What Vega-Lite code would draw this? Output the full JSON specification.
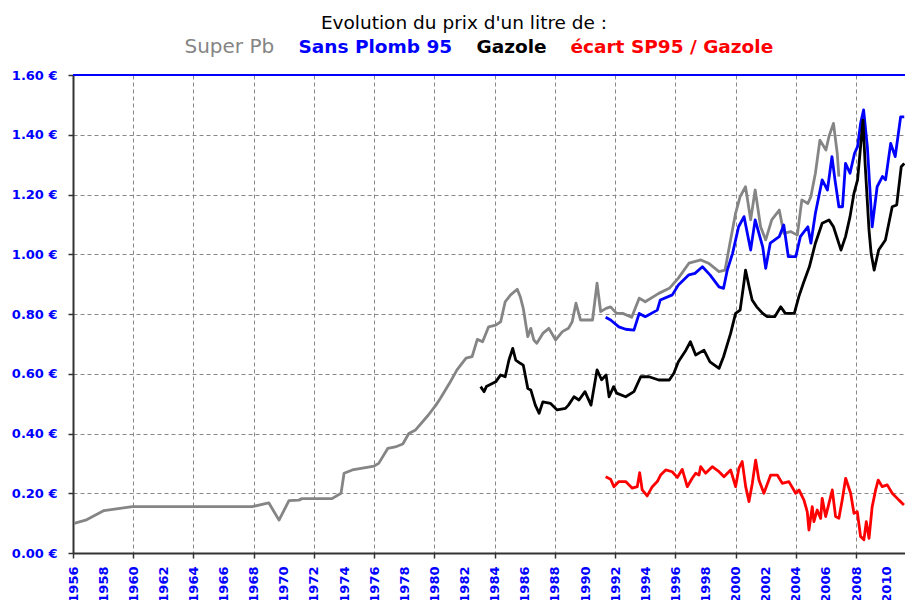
{
  "$schema": "https://vega.github.io/schema/vega-lite/v6.json",
  "width": 832,
  "height": 478,
  "autosize": "none",
  "padding": {"left": 73, "top": 75, "right": 0, "bottom": 47},
  "background": "white",
  "config": {"view": {"stroke": null}},
  "title": {"text": "Evolution du prix d'un litre de :", "font": "DejaVu Sans", "fontSize": 18.5, "fontWeight": "normal", "color": "#000000", "anchor": "middle", "frame": "group", "dx": -25, "offset": -10, "baseline": "alphabetic"},
  "data": {"values": [
    {"s":"Super Pb","t":1956.07,"v":0.099},{"s":"Super Pb","t":1956.84,"v":0.110},{"s":"Super Pb","t":1958.06,"v":0.142},{"s":"Super Pb","t":1959.94,"v":0.155},{"s":"Super Pb","t":1967.9,"v":0.155},{"s":"Super Pb","t":1969.0,"v":0.168},{"s":"Super Pb","t":1969.68,"v":0.110},{"s":"Super Pb","t":1970.34,"v":0.175},{"s":"Super Pb","t":1971.0,"v":0.177},{"s":"Super Pb","t":1971.2,"v":0.182},{"s":"Super Pb","t":1973.2,"v":0.182},{"s":"Super Pb","t":1973.8,"v":0.200},{"s":"Super Pb","t":1974.0,"v":0.267},{"s":"Super Pb","t":1974.55,"v":0.278},{"s":"Super Pb","t":1976.0,"v":0.291},{"s":"Super Pb","t":1976.3,"v":0.300},{"s":"Super Pb","t":1976.9,"v":0.350},{"s":"Super Pb","t":1977.4,"v":0.355},{"s":"Super Pb","t":1977.9,"v":0.365},{"s":"Super Pb","t":1978.3,"v":0.400},{"s":"Super Pb","t":1978.75,"v":0.412},{"s":"Super Pb","t":1979.6,"v":0.462},{"s":"Super Pb","t":1980.1,"v":0.495},{"s":"Super Pb","t":1980.4,"v":0.518},{"s":"Super Pb","t":1981.0,"v":0.568},{"s":"Super Pb","t":1981.5,"v":0.613},{"s":"Super Pb","t":1982.1,"v":0.652},{"s":"Super Pb","t":1982.5,"v":0.657},{"s":"Super Pb","t":1982.85,"v":0.715},{"s":"Super Pb","t":1983.2,"v":0.707},{"s":"Super Pb","t":1983.6,"v":0.757},{"s":"Super Pb","t":1984.07,"v":0.763},{"s":"Super Pb","t":1984.4,"v":0.774},{"s":"Super Pb","t":1984.7,"v":0.841},{"s":"Super Pb","t":1985.06,"v":0.864},{"s":"Super Pb","t":1985.5,"v":0.883},{"s":"Super Pb","t":1985.7,"v":0.858},{"s":"Super Pb","t":1985.9,"v":0.819},{"s":"Super Pb","t":1986.2,"v":0.724},{"s":"Super Pb","t":1986.4,"v":0.752},{"s":"Super Pb","t":1986.6,"v":0.713},{"s":"Super Pb","t":1986.8,"v":0.702},{"s":"Super Pb","t":1987.2,"v":0.735},{"s":"Super Pb","t":1987.6,"v":0.752},{"s":"Super Pb","t":1988.05,"v":0.713},{"s":"Super Pb","t":1988.5,"v":0.741},{"s":"Super Pb","t":1988.9,"v":0.752},{"s":"Super Pb","t":1989.15,"v":0.774},{"s":"Super Pb","t":1989.4,"v":0.836},{"s":"Super Pb","t":1989.7,"v":0.780},{"s":"Super Pb","t":1990.5,"v":0.780},{"s":"Super Pb","t":1990.8,"v":0.903},{"s":"Super Pb","t":1991.04,"v":0.808},{"s":"Super Pb","t":1991.4,"v":0.819},{"s":"Super Pb","t":1991.7,"v":0.824},{"s":"Super Pb","t":1992.1,"v":0.802},{"s":"Super Pb","t":1992.5,"v":0.802},{"s":"Super Pb","t":1993.1,"v":0.789},{"s":"Super Pb","t":1993.6,"v":0.853},{"s":"Super Pb","t":1994.0,"v":0.841},{"s":"Super Pb","t":1994.9,"v":0.869},{"s":"Super Pb","t":1995.6,"v":0.886},{"s":"Super Pb","t":1996.2,"v":0.920},{"s":"Super Pb","t":1996.9,"v":0.970},{"s":"Super Pb","t":1997.7,"v":0.981},{"s":"Super Pb","t":1998.2,"v":0.970},{"s":"Super Pb","t":1998.9,"v":0.942},{"s":"Super Pb","t":1999.3,"v":0.947},{"s":"Super Pb","t":1999.6,"v":1.030},{"s":"Super Pb","t":2000.0,"v":1.137},{"s":"Super Pb","t":2000.3,"v":1.193},{"s":"Super Pb","t":2000.66,"v":1.226},{"s":"Super Pb","t":2001.0,"v":1.115},{"s":"Super Pb","t":2001.3,"v":1.215},{"s":"Super Pb","t":2001.66,"v":1.092},{"s":"Super Pb","t":2002.0,"v":1.048},{"s":"Super Pb","t":2002.4,"v":1.115},{"s":"Super Pb","t":2002.9,"v":1.148},{"s":"Super Pb","t":2003.2,"v":1.070},{"s":"Super Pb","t":2003.65,"v":1.076},{"s":"Super Pb","t":2004.1,"v":1.064},{"s":"Super Pb","t":2004.4,"v":1.182},{"s":"Super Pb","t":2004.8,"v":1.170},{"s":"Super Pb","t":2005.0,"v":1.193},{"s":"Super Pb","t":2005.3,"v":1.271},{"s":"Super Pb","t":2005.6,"v":1.382},{"s":"Super Pb","t":2006.0,"v":1.349},{"s":"Super Pb","t":2006.2,"v":1.394},{"s":"Super Pb","t":2006.5,"v":1.438},{"s":"Super Pb","t":2006.75,"v":1.338},{"s":"Super Pb","t":2006.86,"v":1.260},
    {"s":"Sans Plomb 95","t":1991.37,"v":0.789},{"s":"Sans Plomb 95","t":1991.7,"v":0.780},{"s":"Sans Plomb 95","t":1992.25,"v":0.757},{"s":"Sans Plomb 95","t":1992.7,"v":0.749},{"s":"Sans Plomb 95","t":1993.25,"v":0.746},{"s":"Sans Plomb 95","t":1993.6,"v":0.802},{"s":"Sans Plomb 95","t":1994.0,"v":0.791},{"s":"Sans Plomb 95","t":1994.8,"v":0.813},{"s":"Sans Plomb 95","t":1995.0,"v":0.847},{"s":"Sans Plomb 95","t":1995.8,"v":0.864},{"s":"Sans Plomb 95","t":1996.2,"v":0.897},{"s":"Sans Plomb 95","t":1996.9,"v":0.931},{"s":"Sans Plomb 95","t":1997.3,"v":0.936},{"s":"Sans Plomb 95","t":1997.8,"v":0.958},{"s":"Sans Plomb 95","t":1998.3,"v":0.931},{"s":"Sans Plomb 95","t":1998.9,"v":0.891},{"s":"Sans Plomb 95","t":1999.2,"v":0.886},{"s":"Sans Plomb 95","t":1999.45,"v":0.947},{"s":"Sans Plomb 95","t":1999.8,"v":1.003},{"s":"Sans Plomb 95","t":2000.2,"v":1.092},{"s":"Sans Plomb 95","t":2000.56,"v":1.126},{"s":"Sans Plomb 95","t":2001.0,"v":1.014},{"s":"Sans Plomb 95","t":2001.3,"v":1.115},{"s":"Sans Plomb 95","t":2001.8,"v":1.025},{"s":"Sans Plomb 95","t":2002.0,"v":0.953},{"s":"Sans Plomb 95","t":2002.3,"v":1.037},{"s":"Sans Plomb 95","t":2002.9,"v":1.059},{"s":"Sans Plomb 95","t":2003.2,"v":1.098},{"s":"Sans Plomb 95","t":2003.5,"v":0.992},{"s":"Sans Plomb 95","t":2004.0,"v":0.992},{"s":"Sans Plomb 95","t":2004.3,"v":1.059},{"s":"Sans Plomb 95","t":2004.8,"v":1.092},{"s":"Sans Plomb 95","t":2005.0,"v":1.037},{"s":"Sans Plomb 95","t":2005.3,"v":1.137},{"s":"Sans Plomb 95","t":2005.75,"v":1.249},{"s":"Sans Plomb 95","t":2006.1,"v":1.215},{"s":"Sans Plomb 95","t":2006.4,"v":1.327},{"s":"Sans Plomb 95","t":2006.6,"v":1.249},{"s":"Sans Plomb 95","t":2006.86,"v":1.159},{"s":"Sans Plomb 95","t":2007.1,"v":1.159},{"s":"Sans Plomb 95","t":2007.3,"v":1.304},{"s":"Sans Plomb 95","t":2007.6,"v":1.271},{"s":"Sans Plomb 95","t":2007.9,"v":1.338},{"s":"Sans Plomb 95","t":2008.1,"v":1.360},{"s":"Sans Plomb 95","t":2008.3,"v":1.438},{"s":"Sans Plomb 95","t":2008.5,"v":1.483},{"s":"Sans Plomb 95","t":2008.75,"v":1.360},{"s":"Sans Plomb 95","t":2009.07,"v":1.092},{"s":"Sans Plomb 95","t":2009.4,"v":1.226},{"s":"Sans Plomb 95","t":2009.75,"v":1.260},{"s":"Sans Plomb 95","t":2009.96,"v":1.249},{"s":"Sans Plomb 95","t":2010.3,"v":1.371},{"s":"Sans Plomb 95","t":2010.6,"v":1.327},{"s":"Sans Plomb 95","t":2010.96,"v":1.460},{"s":"Sans Plomb 95","t":2011.2,"v":1.460},
    {"s":"Gazole","t":1983.07,"v":0.557},{"s":"Gazole","t":1983.3,"v":0.540},{"s":"Gazole","t":1983.45,"v":0.557},{"s":"Gazole","t":1984.07,"v":0.573},{"s":"Gazole","t":1984.4,"v":0.596},{"s":"Gazole","t":1984.7,"v":0.590},{"s":"Gazole","t":1984.95,"v":0.646},{"s":"Gazole","t":1985.2,"v":0.685},{"s":"Gazole","t":1985.4,"v":0.646},{"s":"Gazole","t":1985.7,"v":0.635},{"s":"Gazole","t":1985.9,"v":0.629},{"s":"Gazole","t":1986.2,"v":0.551},{"s":"Gazole","t":1986.4,"v":0.546},{"s":"Gazole","t":1986.7,"v":0.495},{"s":"Gazole","t":1986.95,"v":0.468},{"s":"Gazole","t":1987.2,"v":0.506},{"s":"Gazole","t":1987.7,"v":0.501},{"s":"Gazole","t":1988.15,"v":0.479},{"s":"Gazole","t":1988.7,"v":0.484},{"s":"Gazole","t":1988.9,"v":0.495},{"s":"Gazole","t":1989.27,"v":0.523},{"s":"Gazole","t":1989.6,"v":0.512},{"s":"Gazole","t":1990.0,"v":0.540},{"s":"Gazole","t":1990.4,"v":0.495},{"s":"Gazole","t":1990.8,"v":0.613},{"s":"Gazole","t":1991.1,"v":0.580},{"s":"Gazole","t":1991.4,"v":0.596},{"s":"Gazole","t":1991.6,"v":0.523},{"s":"Gazole","t":1991.9,"v":0.557},{"s":"Gazole","t":1992.1,"v":0.535},{"s":"Gazole","t":1992.7,"v":0.523},{"s":"Gazole","t":1993.25,"v":0.540},{"s":"Gazole","t":1993.7,"v":0.590},{"s":"Gazole","t":1994.25,"v":0.590},{"s":"Gazole","t":1994.9,"v":0.579},{"s":"Gazole","t":1995.6,"v":0.579},{"s":"Gazole","t":1995.9,"v":0.602},{"s":"Gazole","t":1996.2,"v":0.640},{"s":"Gazole","t":1996.7,"v":0.679},{"s":"Gazole","t":1997.0,"v":0.707},{"s":"Gazole","t":1997.35,"v":0.663},{"s":"Gazole","t":1997.9,"v":0.679},{"s":"Gazole","t":1998.3,"v":0.640},{"s":"Gazole","t":1998.9,"v":0.618},{"s":"Gazole","t":1999.2,"v":0.657},{"s":"Gazole","t":1999.67,"v":0.735},{"s":"Gazole","t":2000.0,"v":0.802},{"s":"Gazole","t":2000.3,"v":0.813},{"s":"Gazole","t":2000.55,"v":0.903},{"s":"Gazole","t":2000.66,"v":0.947},{"s":"Gazole","t":2000.9,"v":0.891},{"s":"Gazole","t":2001.1,"v":0.847},{"s":"Gazole","t":2001.4,"v":0.824},{"s":"Gazole","t":2001.8,"v":0.802},{"s":"Gazole","t":2002.1,"v":0.791},{"s":"Gazole","t":2002.6,"v":0.791},{"s":"Gazole","t":2003.0,"v":0.824},{"s":"Gazole","t":2003.3,"v":0.802},{"s":"Gazole","t":2003.9,"v":0.802},{"s":"Gazole","t":2004.2,"v":0.858},{"s":"Gazole","t":2004.5,"v":0.903},{"s":"Gazole","t":2004.9,"v":0.958},{"s":"Gazole","t":2005.3,"v":1.037},{"s":"Gazole","t":2005.75,"v":1.104},{"s":"Gazole","t":2006.2,"v":1.115},{"s":"Gazole","t":2006.5,"v":1.092},{"s":"Gazole","t":2007.0,"v":1.014},{"s":"Gazole","t":2007.3,"v":1.059},{"s":"Gazole","t":2007.6,"v":1.126},{"s":"Gazole","t":2007.86,"v":1.204},{"s":"Gazole","t":2008.1,"v":1.249},{"s":"Gazole","t":2008.3,"v":1.360},{"s":"Gazole","t":2008.46,"v":1.449},{"s":"Gazole","t":2008.6,"v":1.304},{"s":"Gazole","t":2008.86,"v":1.081},{"s":"Gazole","t":2009.0,"v":1.003},{"s":"Gazole","t":2009.2,"v":0.947},{"s":"Gazole","t":2009.5,"v":1.014},{"s":"Gazole","t":2009.95,"v":1.048},{"s":"Gazole","t":2010.4,"v":1.159},{"s":"Gazole","t":2010.7,"v":1.165},{"s":"Gazole","t":2011.0,"v":1.293},{"s":"Gazole","t":2011.2,"v":1.304},
    {"s":"écart SP95 / Gazole","t":1991.37,"v":0.255},{"s":"écart SP95 / Gazole","t":1991.70,"v":0.247},{"s":"écart SP95 / Gazole","t":1991.92,"v":0.222},{"s":"écart SP95 / Gazole","t":1992.25,"v":0.239},{"s":"écart SP95 / Gazole","t":1992.70,"v":0.239},{"s":"écart SP95 / Gazole","t":1993.14,"v":0.217},{"s":"écart SP95 / Gazole","t":1993.47,"v":0.222},{"s":"écart SP95 / Gazole","t":1993.63,"v":0.269},{"s":"écart SP95 / Gazole","t":1993.80,"v":0.211},{"s":"écart SP95 / Gazole","t":1994.13,"v":0.191},{"s":"écart SP95 / Gazole","t":1994.47,"v":0.222},{"s":"écart SP95 / Gazole","t":1994.80,"v":0.239},{"s":"écart SP95 / Gazole","t":1995.02,"v":0.261},{"s":"écart SP95 / Gazole","t":1995.36,"v":0.278},{"s":"écart SP95 / Gazole","t":1995.79,"v":0.272},{"s":"écart SP95 / Gazole","t":1996.13,"v":0.253},{"s":"écart SP95 / Gazole","t":1996.46,"v":0.280},{"s":"écart SP95 / Gazole","t":1996.79,"v":0.222},{"s":"écart SP95 / Gazole","t":1997.12,"v":0.250},{"s":"écart SP95 / Gazole","t":1997.35,"v":0.267},{"s":"écart SP95 / Gazole","t":1997.57,"v":0.261},{"s":"écart SP95 / Gazole","t":1997.68,"v":0.289},{"s":"écart SP95 / Gazole","t":1998.01,"v":0.267},{"s":"écart SP95 / Gazole","t":1998.45,"v":0.289},{"s":"écart SP95 / Gazole","t":1998.90,"v":0.272},{"s":"écart SP95 / Gazole","t":1999.23,"v":0.255},{"s":"écart SP95 / Gazole","t":1999.67,"v":0.278},{"s":"écart SP95 / Gazole","t":2000.00,"v":0.222},{"s":"écart SP95 / Gazole","t":2000.22,"v":0.284},{"s":"écart SP95 / Gazole","t":2000.44,"v":0.306},{"s":"écart SP95 / Gazole","t":2000.67,"v":0.222},{"s":"écart SP95 / Gazole","t":2000.89,"v":0.172},{"s":"écart SP95 / Gazole","t":2001.11,"v":0.233},{"s":"écart SP95 / Gazole","t":2001.33,"v":0.311},{"s":"écart SP95 / Gazole","t":2001.55,"v":0.244},{"s":"écart SP95 / Gazole","t":2001.88,"v":0.200},{"s":"écart SP95 / Gazole","t":2002.33,"v":0.261},{"s":"écart SP95 / Gazole","t":2002.77,"v":0.261},{"s":"écart SP95 / Gazole","t":2003.10,"v":0.233},{"s":"écart SP95 / Gazole","t":2003.54,"v":0.239},{"s":"écart SP95 / Gazole","t":2003.99,"v":0.200},{"s":"écart SP95 / Gazole","t":2004.21,"v":0.211},{"s":"écart SP95 / Gazole","t":2004.54,"v":0.177},{"s":"écart SP95 / Gazole","t":2004.76,"v":0.138},{"s":"écart SP95 / Gazole","t":2004.87,"v":0.077},{"s":"écart SP95 / Gazole","t":2005.09,"v":0.155},{"s":"écart SP95 / Gazole","t":2005.20,"v":0.105},{"s":"écart SP95 / Gazole","t":2005.42,"v":0.144},{"s":"écart SP95 / Gazole","t":2005.65,"v":0.116},{"s":"écart SP95 / Gazole","t":2005.75,"v":0.183},{"s":"écart SP95 / Gazole","t":2005.98,"v":0.122},{"s":"écart SP95 / Gazole","t":2006.20,"v":0.166},{"s":"écart SP95 / Gazole","t":2006.42,"v":0.211},{"s":"écart SP95 / Gazole","t":2006.64,"v":0.122},{"s":"écart SP95 / Gazole","t":2006.86,"v":0.116},{"s":"écart SP95 / Gazole","t":2007.08,"v":0.177},{"s":"écart SP95 / Gazole","t":2007.31,"v":0.250},{"s":"écart SP95 / Gazole","t":2007.64,"v":0.200},{"s":"écart SP95 / Gazole","t":2007.86,"v":0.133},{"s":"écart SP95 / Gazole","t":2008.08,"v":0.138},{"s":"écart SP95 / Gazole","t":2008.30,"v":0.055},{"s":"écart SP95 / Gazole","t":2008.52,"v":0.044},{"s":"écart SP95 / Gazole","t":2008.68,"v":0.105},{"s":"écart SP95 / Gazole","t":2008.86,"v":0.049},{"s":"écart SP95 / Gazole","t":2009.07,"v":0.155},{"s":"écart SP95 / Gazole","t":2009.30,"v":0.211},{"s":"écart SP95 / Gazole","t":2009.47,"v":0.244},{"s":"écart SP95 / Gazole","t":2009.74,"v":0.222},{"s":"écart SP95 / Gazole","t":2010.07,"v":0.228},{"s":"écart SP95 / Gazole","t":2010.40,"v":0.200},{"s":"écart SP95 / Gazole","t":2010.85,"v":0.177},{"s":"écart SP95 / Gazole","t":2011.18,"v":0.161}
  ]},
  "layer": [
    {
      "mark": {"type": "line", "strokeWidth": 2.8, "strokeJoin": "round", "strokeCap": "butt"},
      "encoding": {
        "x": {"field": "t", "type": "quantitative",
          "scale": {"domain": [1956, 2011.25], "nice": false, "zero": false},
          "axis": {"title": null, "values": [1956,1958,1960,1962,1964,1966,1968,1970,1972,1974,1976,1978,1980,1982,1984,1986,1988,1990,1992,1994,1996,1998,2000,2002,2004,2006,2008,2010],
            "format": "d", "labelAngle": -90, "labelFlush": false, "labelOverlap": false, "labelBound": false,
            "labelColor": "#0000ff", "labelFont": "DejaVu Sans", "labelFontWeight": "bold", "labelFontSize": 13, "labelPadding": 8,
            "domainColor": "#333333", "domainWidth": 2,
            "tickColor": "#333333", "tickWidth": 1.5, "tickSize": 5,
            "tickOpacity": {"condition": {"test": "datum.value % 4 == 0", "value": 1}, "value": 0},
            "grid": true, "gridColor": "#888888", "gridDash": [4, 3], "gridWidth": 1,
            "gridOpacity": {"condition": {"test": "datum.value % 4 == 0 && datum.value > 1956", "value": 1}, "value": 0}}},
        "y": {"field": "v", "type": "quantitative",
          "scale": {"domain": [0, 1.6], "nice": false},
          "axis": {"title": null, "values": [0, 0.2, 0.4, 0.6, 0.8, 1.0, 1.2, 1.4, 1.6],
            "labelExpr": "format(datum.value, '.2f') + ' €'",
            "labelColor": "#0000ff", "labelFont": "DejaVu Sans", "labelFontWeight": "bold", "labelFontSize": 13, "labelPadding": 11,
            "domainColor": "#333333", "domainWidth": 2,
            "tickColor": "#333333", "tickWidth": 1.5, "tickSize": 5,
            "grid": true, "gridColor": "#888888", "gridDash": [4, 3], "gridWidth": 1}},
        "color": {"field": "s", "type": "nominal",
          "scale": {"domain": ["Super Pb", "Sans Plomb 95", "Gazole", "écart SP95 / Gazole"], "range": ["#858585", "#0000ff", "#000000", "#ff0000"]},
          "legend": {"orient": "none", "legendX": 93, "legendY": -38, "direction": "horizontal", "title": null,
            "symbolSize": 0, "symbolStrokeWidth": 0, "symbolOpacity": 0, "labelOffset": 0, "columnPadding": 5,
            "labelFont": "DejaVu Sans", "labelFontSize": 18.5, "labelLimit": 400, "labelBaseline": "middle",
            "encode": {"labels": {"update": {"fill": {"scale": "color", "field": "value"}, "fontWeight": {"signal": "datum.value === 'Super Pb' ? 'normal' : 'bold'"}, "fontSize": {"signal": "datum.value === 'Super Pb' ? 20 : 18.5"}}}}}},
        "order": {"field": "t", "type": "quantitative"}
      }
    },
    {
      "mark": {"type": "rule", "color": "#0000ff", "strokeWidth": 1.5},
      "encoding": {"y": {"datum": 1.6}}
    }
  ]
}
